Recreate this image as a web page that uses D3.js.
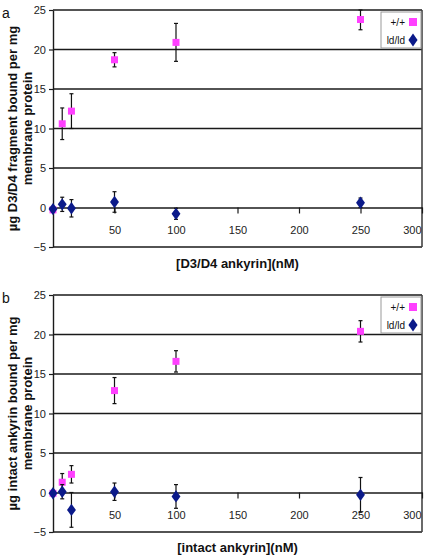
<!DOCTYPE html>
<html><head><meta charset="utf-8">
<script src="https://cdn.jsdelivr.net/npm/d3@7"></script>
<style>
html,body{margin:0;padding:0;background:#fff;}
svg{display:block;font-family:"Liberation Sans",Arial,sans-serif;}
</style></head>
<body><svg id="c" width="424" height="555"></svg>
<script>
// Data
const concentrations = [0, 7.5, 15, 50, 100, 250];
const xTicks = [50, 100, 150, 200, 250, 300];
const yTicks = [-5, 0, 5, 10, 15, 20, 25];
const seriesNames = ["+/+", "ld/ld"];

const aWildMean = [-0.3, 10.6, 12.2, 18.7, 20.9, 23.8];
const aWildErr  = [0.2, 2.0, 2.2, 0.9, 2.4, 1.3];
const aLdMean   = [-0.2, 0.4, -0.1, 0.7, -0.8, 0.6];
const aLdErr    = [0.2, 0.9, 1.1, 1.3, 0.7, 0.6];

const bWildMean = [-0.1, 1.3, 2.3, 12.9, 16.6, 20.4];
const bWildErr  = [0.2, 1.1, 1.1, 1.65, 1.35, 1.35];
const bLdMean   = [-0.1, 0.1, -2.2, 0.1, -0.5, -0.3];
const bLdErr    = [0.2, 0.9, 2.2, 1.1, 1.5, 2.2];

const panels = [
  {label: "a", top: 10, bottom: 247,
   yTitle: ["µg D3/D4 fragment bound per mg", "membrane protein"],
   xTitle: "[D3/D4 ankyrin](nM)", xTitleY: 268,
   wild: aWildMean, wildErr: aWildErr, ld: aLdMean, ldErr: aLdErr},
  {label: "b", top: 295, bottom: 532,
   yTitle: ["µg intact ankyrin bound per mg", "membrane protein"],
   xTitle: "[intact ankyrin](nM)", xTitleY: 552,
   wild: bWildMean, wildErr: bWildErr, ld: bLdMean, ldErr: bLdErr}
];

const svg = d3.select("#c");
const left = 53, right = 422;
const pink = "#ff40ff", navy = "#0b1a8a", lineCol = "#1a1a1a";
const x = d3.scaleLinear().domain([0, 300]).range([left, right]);

panels.forEach(p => {
  const y = d3.scaleLinear().domain([-5, 25]).range([p.bottom, p.top]);
  const g = svg.append("g");

  g.selectAll("line.grid").data(yTicks.filter(v => v !== 0)).enter().append("line")
    .attr("x1", left).attr("x2", right)
    .attr("y1", d => y(d)).attr("y2", d => y(d))
    .attr("stroke", lineCol).attr("stroke-width", 1.4);
  g.append("line").attr("x1", right).attr("x2", right)
    .attr("y1", y(25)).attr("y2", y(-5)).attr("stroke", "#444").attr("stroke-width", 1.6);

  const yAxis = d3.axisLeft(y).tickValues(yTicks).tickSize(4).tickSizeOuter(0).tickPadding(3);
  const ya = g.append("g").attr("transform", `translate(${left},0)`).call(yAxis);
  ya.select(".domain").attr("stroke", lineCol).attr("stroke-width", 1.4);
  ya.selectAll(".tick line").attr("stroke", lineCol).attr("stroke-width", 1.2);
  ya.selectAll("text").attr("font-size", 11).attr("fill", "#222")
    .attr("font-family", "Liberation Sans, Arial, sans-serif");

  const xAxis = d3.axisBottom(x).tickValues(xTicks).tickSize(6).tickSizeOuter(0).tickPadding(13);
  const xa = g.append("g").attr("transform", `translate(0,${y(0)})`).call(xAxis);
  xa.select(".domain").attr("stroke", lineCol).attr("stroke-width", 1.4);
  xa.selectAll(".tick line").attr("stroke", lineCol).attr("stroke-width", 1.2);
  xa.selectAll("text").attr("font-size", 11).attr("fill", "#222")
    .attr("font-family", "Liberation Sans, Arial, sans-serif");
  xa.selectAll(".tick").filter(d => d === 300).select("text")
    .attr("text-anchor", "end").attr("x", -1);

  function drawSeries(means, errs, color, shape) {
    const d = concentrations.map((c, i) => ({c, m: means[i], e: errs[i]}));
    const eb = g.append("g");
    d.forEach(o => {
      const lo = y(o.m - o.e), hi = Math.max(y(o.m + o.e), p.top);
      eb.append("line").attr("x1", x(o.c)).attr("x2", x(o.c)).attr("y1", lo).attr("y2", hi)
        .attr("stroke", "#111").attr("stroke-width", 1.2);
      [lo, hi].forEach(yy => eb.append("line").attr("x1", x(o.c) - 2).attr("x2", x(o.c) + 2)
        .attr("y1", yy).attr("y2", yy).attr("stroke", "#111").attr("stroke-width", 1.2));
    });
    const sym = d3.symbol().type(shape === "square" ? d3.symbolSquare : d3.symbolDiamond)
      .size(shape === "square" ? 49 : 44);
    g.append("g").selectAll("path").data(d).enter().append("path")
      .attr("d", sym)
      .attr("transform", o => `translate(${x(o.c)},${y(o.m)})${shape === "diamond" ? " scale(1.25,1)" : ""}`)
      .attr("fill", color);
  }
  drawSeries(p.wild, p.wildErr, pink, "square");
  drawSeries(p.ld, p.ldErr, navy, "diamond");

  const lg = g.append("g").attr("transform", `translate(381,${p.top + 2})`);
  lg.append("rect").attr("width", 40).attr("height", 36).attr("fill", "#fff")
    .attr("stroke", "#999").attr("stroke-width", 1);
  seriesNames.forEach((n, i) => {
    const yy = 10 + i * 18;
    lg.append("text").attr("x", 24).attr("y", yy + 4).attr("text-anchor", "end")
      .attr("font-size", 10).attr("fill", "#111").text(n);
    const sym = d3.symbol().type(i === 0 ? d3.symbolSquare : d3.symbolDiamond).size(i === 0 ? 64 : 50);
    lg.append("path").attr("d", sym)
      .attr("transform", `translate(32,${yy})${i === 1 ? " scale(1.2,1)" : ""}`)
      .attr("fill", i === 0 ? pink : navy);
  });

  const cy = (p.top + p.bottom) / 2;
  p.yTitle.forEach((t, i) => {
    svg.append("text").attr("transform", `translate(${17 + i * 15},${cy}) rotate(-90)`)
      .attr("text-anchor", "middle").attr("font-size", 13).attr("font-weight", "bold")
      .attr("fill", "#111").text(t);
  });
  svg.append("text").attr("x", (left + right) / 2).attr("y", p.xTitleY)
    .attr("text-anchor", "middle").attr("font-size", 13).attr("font-weight", "bold")
    .attr("fill", "#111").text(p.xTitle);
  svg.append("text").attr("x", 2).attr("y", p.top + 8).attr("font-size", 14)
    .attr("fill", "#111").text(p.label);
});
</script></body></html>
